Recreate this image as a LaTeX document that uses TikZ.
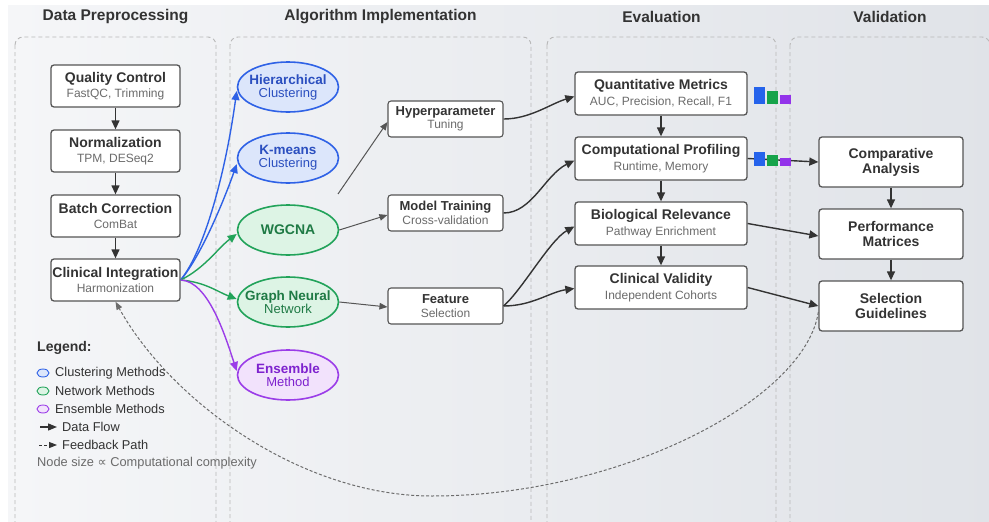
\documentclass[tikz,border=0pt]{standalone}
\usepackage{fontspec}
\setmainfont{Liberation Sans}
\newfontfamily\djv{DejaVu Sans}
\usetikzlibrary{arrows.meta,shapes.geometric}
\definecolor{ink}{HTML}{333333}
\definecolor{subc}{HTML}{6B6B6B}
\definecolor{edgec}{HTML}{555555}
\definecolor{panelc}{HTML}{B8B8B8}
\definecolor{bluel}{HTML}{2F62E6}
\definecolor{bluef}{HTML}{DCE6FB}
\definecolor{bluet}{HTML}{2B4FBF}
\definecolor{greenl}{HTML}{22A35A}
\definecolor{greenf}{HTML}{DDF4E5}
\definecolor{greent}{HTML}{1F7A45}
\definecolor{purpl}{HTML}{9B3DE8}
\definecolor{purpf}{HTML}{F2E2FC}
\definecolor{purpt}{HTML}{7E22CE}
\definecolor{bgl}{HTML}{F5F6F8}
\definecolor{bgr}{HTML}{E0E3E8}
\definecolor{barb}{HTML}{2563EB}
\definecolor{barg}{HTML}{16A34A}
\definecolor{barp}{HTML}{9333EA}
\newcommand{\hdr}[1]{{\fontsize{14}{15}\selectfont\bfseries #1}}
\newcommand{\hdrs}[1]{{\fontsize{13}{13}\selectfont\bfseries #1}}
\newcommand{\subt}[1]{{\color{subc}#1}}
\tikzset{
  panel/.style={draw=panelc, dashed, dash pattern=on 4pt off 3pt, line width=0.9pt, rounded corners=8pt},
  ptitle/.style={font=\fontsize{15.5}{18}\selectfont\bfseries, text=ink},
  pbox/.style={rectangle, rounded corners=3pt, draw=edgec, line width=1.3pt, fill=white, align=center,
    inner sep=0pt, text=ink, font=\fontsize{12}{15}\selectfont},
  sbox/.style={pbox, minimum width=115pt, minimum height=36pt, line width=1.1pt, font=\fontsize{12}{13.5}\selectfont},
  ebox/.style={pbox, minimum width=172pt, minimum height=43pt, font=\fontsize{12}{16}\selectfont},
  vbox/.style={pbox, minimum width=144pt, minimum height=50pt, font=\fontsize{14}{15}\selectfont\bfseries},
  dbox/.style={pbox, minimum width=129pt, minimum height=42pt},
  meth/.style={ellipse, line width=1.6pt, inner xsep=-14pt, inner ysep=-5pt, minimum width=101pt, minimum height=50pt,
    align=center, font=\fontsize{13}{13}\selectfont},
  bluem/.style={meth, draw=bluel, fill=bluef, text=bluet},
  greenm/.style={meth, draw=greenl, fill=greenf, text=greent},
  purpm/.style={meth, draw=purpl, fill=purpf, text=purpt},
  flow/.style={draw=ink, line width=1.3pt, -{Triangle[length=9pt,width=8pt]}},
  thin/.style={draw=edgec, line width=1pt, -{Triangle[length=8pt,width=6.5pt]}},
  feed/.style={draw=gray!85!black, dash pattern=on 3pt off 2pt, line width=1pt, -{Triangle[length=8pt,width=6pt]}},
  cfl/.style={line width=1.4pt, -{Triangle[length=9pt,width=8pt]}},
  lgtext/.style={anchor=west, inner sep=0pt, text=ink, font=\fontsize{12.8}{14}\selectfont},
  lgicon/.style={ellipse, inner sep=0pt, minimum width=12pt, minimum height=8pt, line width=0.9pt}
}
\begin{document}
\begin{tikzpicture}[x=1pt,y=-1pt]
\useasboundingbox (0,0) rectangle (989,522);
\clip (-5,-5) rectangle (1000,532);
\fill[white] (-5,-5) rectangle (1000,532);
\fill[bgr!60!bgl] (8,5) rectangle (1000,532);
\shade[left color=bgl, right color=bgr] (8,5) rectangle (1000,532);
% panels
\draw[panel] (15,37) rectangle (216,545);
\draw[panel] (230,37) rectangle (531,545);
\draw[panel] (547,37) rectangle (776,545);
\draw[panel] (790,37) rectangle (990,545);
\node[ptitle] (t1) at (115.5,17) {Data Preprocessing};
\node[ptitle] (t2) at (380.5,17) {Algorithm Implementation};
\node[ptitle] (t3) at (661.5,17) {Evaluation};
\node[ptitle] (t4) at (890,17) {Validation};
% data preprocessing
\node[dbox] (qc) at (115.5,86) {\hdr{Quality Control}\\\subt{FastQC, Trimming}};
\node[dbox] (nm) at (115.5,151) {\hdr{Normalization}\\\subt{TPM, DESeq2}};
\node[dbox] (bc) at (115.5,216) {\hdr{Batch Correction}\\\subt{ComBat}};
\node[dbox] (ci) at (115.5,280) {\hdr{Clinical Integration}\\\subt{Harmonization}};
\draw[flow] (qc) -- (nm);
\draw[flow] (nm) -- (bc);
\draw[flow] (bc) -- (ci);
% methods
\node[bluem] (hc) at (288,87) {{\fontsize{13.5}{13}\selectfont\bfseries Hierarchical}\\Clustering};
\node[bluem] (km) at (288,158) {{\fontsize{13.5}{13}\selectfont\bfseries K-means}\\Clustering};
\node[greenm] (wg) at (288,230) {{\fontsize{14}{13}\selectfont\bfseries WGCNA}};
\node[greenm] (gn) at (288,302) {{\fontsize{13.5}{13}\selectfont\bfseries Graph Neural}\\Network};
\node[purpm] (en) at (288,375) {{\fontsize{13.5}{13}\selectfont\bfseries Ensemble}\\Method};
\draw[cfl, bluel] (ci.east) .. controls (205,250) and (226,170) .. ([yshift=-4pt]hc.west);
\draw[cfl, bluel] (ci.east) .. controls (202,255) and (226,195) .. ([yshift=-6pt]km.west);
\draw[cfl, greenl] (ci.east) .. controls (205,268) and (218,248) .. ([yshift=-4pt]wg.west);
\draw[cfl, greenl] (ci.east) .. controls (205,282) and (218,292) .. ([yshift=3pt]gn.west);
\draw[cfl, purpl] (ci.east) .. controls (208,281) and (225,335) .. ([yshift=4pt]en.west);
% model boxes
\node[sbox] (hp) at (445.5,119) {\hdrs{Hyperparameter}\\\subt{Tuning}};
\node[sbox] (mt) at (445.5,213) {\hdrs{Model Training}\\\subt{Cross-validation}};
\node[sbox] (fs) at (445.5,306) {\hdrs{Feature}\\\subt{Selection}};
\coordinate (kfree) at (338,194);
\draw[thin] (kfree) -- ([yshift=-3pt]hp.west);
\draw[thin] (wg.east) -- ([yshift=-2pt]mt.west);
\draw[thin] (gn.east) -- ([yshift=-1pt]fs.west);
% evaluation
\node[ebox] (qm) at (661,93.5) {\hdr{Quantitative Metrics}\\\subt{AUC, Precision, Recall, F1}};
\node[ebox] (cp) at (661,158.5) {\hdr{Computational Profiling}\\\subt{Runtime, Memory}};
\node[ebox] (br) at (661,223.5) {\hdr{Biological Relevance}\\\subt{Pathway Enrichment}};
\node[ebox] (cv) at (661,287.5) {\hdr{Clinical Validity}\\\subt{Independent Cohorts}};
\draw[flow] (qm) -- (cp);
\draw[flow] (cp) -- (br);
\draw[flow] (br) -- (cv);
\draw[cfl, ink] (hp.east) .. controls (530,119) and (550,104) .. ([yshift=-3pt]qm.west);
\draw[cfl, ink] (mt.east) .. controls (532,213) and (545,175) .. ([yshift=-2pt]cp.west);
\draw[cfl, ink] (fs.east) .. controls (522,290) and (550,240) .. ([yshift=-3pt]br.west);
\draw[cfl, ink] (fs.east) .. controls (532,306) and (550,292) .. ([yshift=-1pt]cv.west);
% validation
\node[vbox] (ca) at (891,162) {Comparative\\Analysis};
\node[vbox] (pm) at (891,234) {Performance\\Matrices};
\node[vbox] (sg) at (891,306) {Selection\\Guidelines};
\draw[flow] (ca) -- (pm);
\draw[flow] (pm) -- (sg);
\draw[cfl, ink] (cp.east) -- (ca.west);
\draw[cfl, ink] (br.east) -- ([yshift=-2pt]pm.west);
\draw[cfl, ink] (cv.east) -- (sg.west);
% bars
\fill[barb] (754,87) rectangle (765,104);
\fill[barg] (767,91) rectangle (778,104);
\fill[barp] (780,95) rectangle (791,104);
\fill[barb] (754,152) rectangle (765,166);
\fill[barg] (767,155) rectangle (778,166);
\fill[barp] (780,158) rectangle (791,166);
% feedback
\draw[feed] ([yshift=-6pt]sg.west) .. controls (805,400) and (620,496) .. (432,496)
   .. controls (300,496) and (170,400) .. (ci.south);
% legend
\node[anchor=west, inner sep=0pt, text=ink, font=\fontsize{14}{15}\selectfont\bfseries] (lg) at (37,348) {Legend:};
\node[lgicon, draw=bluel, fill=bluef] (li1) at (43,373) {};
\node[lgtext] (lt1) at (55,373) {Clustering Methods};
\node[lgicon, draw=greenl, fill=greenf] (li2) at (43,391) {};
\node[lgtext] (lt2) at (55,391) {Network Methods};
\node[lgicon, draw=purpl, fill=purpf] (li3) at (43,409) {};
\node[lgtext] (lt3) at (55,409) {Ensemble Methods};
\coordinate (la1) at (40,427);
\coordinate (la2) at (57,427);
\draw[line width=1.3pt, ink, -{Triangle[length=9pt,width=7pt]}] (la1) -- (la2);
\node[lgtext] (lt4) at (62,427) {Data Flow};
\coordinate (lb1) at (39,445);
\coordinate (lb2) at (57,445);
\draw[line width=1pt, ink, dash pattern=on 3pt off 2pt, -{Triangle[length=8pt,width=6pt]}] (lb1) -- (lb2);
\node[lgtext] (lt5) at (62,445) {Feedback Path};
\node[lgtext, text=subc] (lt6) at (37,463) {Node size {\djv ∝} Computational complexity};
\end{tikzpicture}
\end{document}
